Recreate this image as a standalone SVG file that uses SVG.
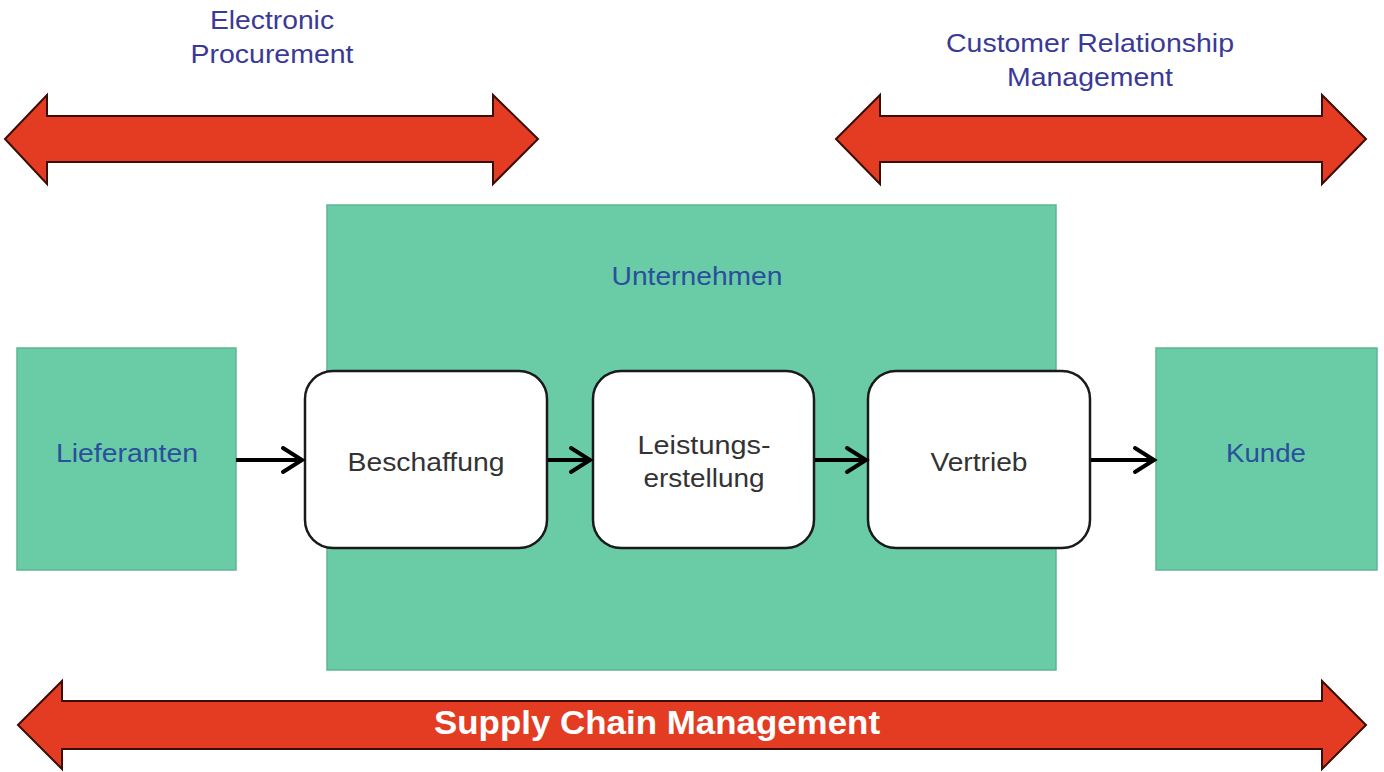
<svg xmlns="http://www.w3.org/2000/svg" width="1384" height="772" viewBox="0 0 1384 772">
<defs>
<style>
.big{fill:#e33c22;stroke:#3a0d05;stroke-width:2;stroke-linejoin:miter}
.lbl{font-family:"Liberation Sans",Arial,sans-serif;font-size:25px;fill:#3a3a96;text-anchor:middle}
.grn{fill:#69cca6;stroke:#5fb592;stroke-width:1.5}
.proc{fill:#ffffff;stroke:#1a1a1a;stroke-width:2.5}
.ptxt{font-family:"Liberation Sans",Arial,sans-serif;font-size:25px;fill:#333333;text-anchor:middle}
.gtxt{font-family:"Liberation Sans",Arial,sans-serif;font-size:25px;fill:#2a4f9c;text-anchor:middle}
.con{stroke:#000;stroke-width:4;fill:none}
</style>
<marker id="ah" viewBox="0 0 28 30" refX="24" refY="15" markerWidth="28" markerHeight="30" markerUnits="userSpaceOnUse" orient="auto">
<path d="M5,3 L24,15 L5,27" fill="none" stroke="#000" stroke-width="4" stroke-linecap="round" stroke-linejoin="miter"/>
</marker>
</defs>
<rect width="1384" height="772" fill="#ffffff"/>
<g id="ep">
<polygon class="big" points="5,139 47,95 47,116 493,116 493,95 538,139 493,184 493,162 47,162 47,184"/>
<text class="lbl" x="272" y="29" textLength="124" lengthAdjust="spacingAndGlyphs">Electronic</text>
<text class="lbl" x="272" y="63" textLength="163" lengthAdjust="spacingAndGlyphs">Procurement</text>
</g>
<g id="crm">
<polygon class="big" points="836,139 880,95 880,116 1322,116 1322,95 1366,139 1322,184 1322,162 880,162 880,184"/>
<text class="lbl" x="1090" y="52" textLength="288" lengthAdjust="spacingAndGlyphs">Customer Relationship</text>
<text class="lbl" x="1090" y="86" textLength="166" lengthAdjust="spacingAndGlyphs">Management</text>
</g>
<g id="scm">
<polygon class="big" points="18,725 62,681 62,701 1322,701 1322,681 1366,725 1322,769 1322,749 62,749 62,769"/>
<text x="657" y="734" font-family="'Liberation Sans',Arial,sans-serif" font-size="33" font-weight="bold" fill="#ffffff" text-anchor="middle" textLength="446" lengthAdjust="spacingAndGlyphs">Supply Chain Management</text>
</g>
<g id="unternehmen">
<rect class="grn" x="327" y="205" width="729" height="465"/>
<text class="gtxt" x="697" y="285" textLength="171" lengthAdjust="spacingAndGlyphs">Unternehmen</text>
</g>
<g id="lieferanten">
<rect class="grn" x="17" y="348" width="219" height="222"/>
<text class="gtxt" x="127" y="462" textLength="142" lengthAdjust="spacingAndGlyphs">Lieferanten</text>
</g>
<g id="kunde">
<rect class="grn" x="1156" y="348" width="221" height="222"/>
<text class="gtxt" x="1266" y="462" textLength="80" lengthAdjust="spacingAndGlyphs">Kunde</text>
</g>
<g id="beschaffung">
<rect class="proc" x="305" y="371" width="242" height="177" rx="28"/>
<text class="ptxt" x="426" y="471" textLength="157" lengthAdjust="spacingAndGlyphs">Beschaffung</text>
</g>
<g id="leistung">
<rect class="proc" x="593" y="371" width="221" height="177" rx="28"/>
<text class="ptxt" x="704" y="454" textLength="133" lengthAdjust="spacingAndGlyphs">Leistungs-</text>
<text class="ptxt" x="704" y="487" textLength="121" lengthAdjust="spacingAndGlyphs">erstellung</text>
</g>
<g id="vertrieb">
<rect class="proc" x="868" y="371" width="222" height="177" rx="28"/>
<text class="ptxt" x="979" y="471" textLength="97" lengthAdjust="spacingAndGlyphs">Vertrieb</text>
</g>
<g id="connectors">
<line class="con" x1="236" y1="460" x2="302" y2="460" marker-end="url(#ah)"/>
<line class="con" x1="548" y1="460" x2="590" y2="460" marker-end="url(#ah)"/>
<line class="con" x1="815" y1="460" x2="866" y2="460" marker-end="url(#ah)"/>
<line class="con" x1="1091" y1="460" x2="1154" y2="460" marker-end="url(#ah)"/>
</g>
</svg>
